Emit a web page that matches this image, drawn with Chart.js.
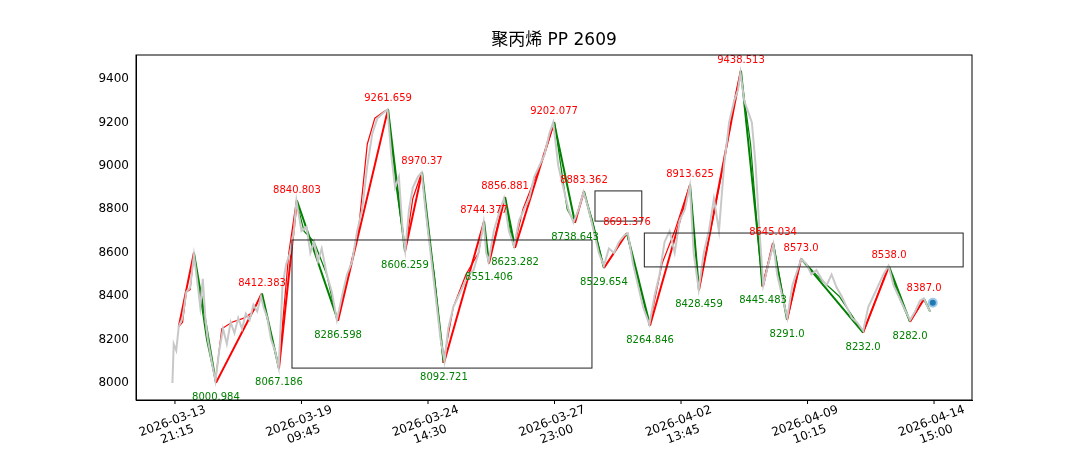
<!DOCTYPE html>
<html>
<head>
<meta charset="utf-8">
<script src="https://cdn.jsdelivr.net/npm/chart.js@4"></script>
<style>
  html, body { margin: 0; padding: 0; background: #fff; }
  #wrap { width: 1080px; height: 450px; }
</style>
</head>
<body>
<div id="wrap"><canvas id="c"></canvas></div>
<script>
// x positions are bar indexes; tick labels every 100 bars
const tickIdx = [0, 100, 200, 300, 400, 500, 600];
const tickLabels = [
  ['2026-03-13', '21:15'], ['2026-03-19', '09:45'], ['2026-03-24', '14:30'],
  ['2026-03-27', '23:00'], ['2026-04-02', '13:45'], ['2026-04-09', '10:15'],
  ['2026-04-14', '15:00']
];
const yTicks = [8000, 8200, 8400, 8600, 8800, 9000, 9200, 9400];

// raw price (grey)
const grayX = [-2,-1,1,3,6,9,12,15,18,20,22,24,26,29,32,35,38,41,44,47,50,53,56,59,62,65,68,70,73,76,79,82,85,88,91,94,96,100,104,107,110,113,116,120,124,128,132,136,140,144,148,152,156,160,164,168,171,174,177,180,182,185,188,192,195,198,201,204,207,210,213,216,220,224,228,232,236,240,244,246,248,252,256,260,264,268,272,276,280,284,288,292,296,299,303,307,311,315,319,323,327,331,335,339,343,347,351,355,358,362,366,370,375,379,383,387,391,395,399,403,407,410,414,418,422,426,430,434,438,442,445,447,450,453,456,459,462,465,469,473,476,480,484,488,492,495,499,503,507,511,515,519,523,527,531,535,539,544,548,552,556,560,564,568,572,576,581,585,589,592,595,597];
const grayY = [8000,8180,8150,8260,8300,8420,8440,8590,8450,8350,8480,8300,8200,8100,8010,8150,8250,8180,8280,8230,8300,8250,8320,8290,8360,8330,8400,8350,8300,8200,8150,8070,8450,8550,8600,8700,8840,8700,8720,8600,8650,8560,8620,8500,8420,8290,8400,8500,8560,8700,8800,9000,9150,9220,9240,9260,9050,8900,8950,8700,8610,8800,8900,8950,8970,8800,8650,8500,8350,8200,8100,8250,8350,8400,8450,8500,8520,8600,8740,8600,8560,8700,8780,8850,8700,8630,8750,8800,8850,8950,9000,9050,9150,9200,9000,8900,8800,8740,8800,8880,8800,8700,8600,8540,8620,8600,8650,8680,8690,8550,8450,8350,8270,8400,8500,8650,8700,8600,8750,8800,8910,8600,8430,8600,8700,8850,8700,9000,9200,9300,9350,9430,9300,9250,9200,9000,8700,8450,8550,8640,8500,8400,8300,8450,8520,8570,8550,8500,8520,8480,8450,8500,8440,8400,8350,8300,8280,8240,8350,8400,8450,8500,8540,8450,8400,8350,8290,8330,8380,8390,8350,8330];

// smoothed line (thin)
const smoothX = [3,6,9,12,15,20,25,32,37,45,55,62,68,75,82,90,96,102,110,120,128,135,145,152,158,165,168,175,182,188,195,200,205,212,220,230,240,244,248,256,261,265,268,275,285,292,300,305,310,316,323,330,339,347,357,365,375,385,395,407,414,425,435,442,447,455,464,473,484,495,510,525,544,555,564,572,581,592,597];
const smoothY = [8260,8280,8420,8430,8600,8400,8200,8010,8250,8280,8300,8330,8410,8250,8070,8600,8840,8700,8650,8500,8290,8450,8700,9100,9220,9250,9260,8900,8610,8850,8970,8700,8500,8093,8350,8500,8600,8744,8551,8750,8857,8700,8623,8800,8950,9050,9202,9000,8800,8739,8883,8750,8530,8600,8691,8500,8265,8550,8700,8914,8428,8750,9050,9300,9439,9100,8445,8645,8291,8573,8480,8400,8232,8400,8538,8400,8282,8387,8330];

// zigzag pivots
const pivotX = [3,15,32.4,68.8,82.2,96.4,128.9,168.4,181.8,195.3,212.6,244.3,248.2,260.9,268.8,299.6,316.2,323.3,339.1,357.3,375.5,407.1,414.2,447.4,464.8,472.7,483.8,494.9,543.9,564.4,581.0,592.1,596.8];
const pivotY = [8260,8600,8000.984,8412.383,8067.186,8840.803,8286.598,9261.659,8606.259,8970.37,8092.721,8744.377,8551.406,8856.881,8623.282,9202.077,8738.643,8883.362,8529.654,8691.376,8264.846,8913.625,8428.459,9438.513,8445.483,8645.034,8291.0,8573.0,8232.0,8538.0,8282.0,8387.0,8330];
const pivotText = [null,null,'8000.984','8412.383','8067.186','8840.803','8286.598','9261.659','8606.259','8970.37','8092.721','8744.377','8551.406','8856.881','8623.282','9202.077','8738.643','8883.362','8529.654','8691.376','8264.846','8913.625','8428.459','9438.513','8445.483','8645.034','8291.0','8573.0','8232.0','8538.0','8282.0','8387.0',null];

// boxes: [x0, x1, y0, y1]
const boxes = [[92.5, 329.6, 8069, 8659], [332, 369, 8746, 8885], [371, 623, 8535, 8691]];
const lastX = [599];
const lastY = [8370];

const pts = (xs, ys) => xs.map((x, i) => ({ x, y: ys[i] }));
const upDown = () => ctx => ctx.p1.parsed.y >= ctx.p0.parsed.y ? 'red' : 'green';

const overlay = {
  id: 'overlay',
  afterDatasetsDraw(chart) {
    const { ctx, chartArea: a, scales: { x, y } } = chart;
    ctx.save();
    ctx.strokeStyle = '#222';
    ctx.lineWidth = 1;
    for (const b of boxes) {
      const x0 = x.getPixelForValue(b[0]), x1 = x.getPixelForValue(b[1]);
      const y0 = y.getPixelForValue(b[2]), y1 = y.getPixelForValue(b[3]);
      ctx.strokeRect(x0, y1, x1 - x0, y0 - y1);
    }
    ctx.font = '10px "DejaVu Sans"';
    ctx.textAlign = 'center';
    pivotText.forEach((t, i) => {
      if (!t) return;
      const px = x.getPixelForValue(pivotX[i]), py = y.getPixelForValue(pivotY[i]);
      const high = i > 0 && pivotY[i] > pivotY[i - 1];
      ctx.fillStyle = high ? 'red' : 'green';
      ctx.fillText(t, px, high ? py - 8 : py + 17);
    });
    ctx.strokeStyle = '#000';
    ctx.strokeRect(a.left, a.top, a.width, a.height);

    // x tick marks and rotated, centred two-line labels
    ctx.fillStyle = '#000';
    ctx.font = '12px "DejaVu Sans"';
    tickIdx.forEach((v, i) => {
      const px = x.getPixelForValue(v);
      ctx.beginPath();
      ctx.moveTo(px, a.bottom);
      ctx.lineTo(px, a.bottom + 4);
      ctx.stroke();
      ctx.save();
      ctx.translate(px, a.bottom + 28);
      ctx.rotate(-20 * Math.PI / 180);
      ctx.textBaseline = 'middle';
      ctx.fillText(tickLabels[i][0], 0, -7);
      ctx.fillText(tickLabels[i][1], 0, 7);
      ctx.restore();
    });

    ctx.font = '17px "DejaVu Sans", "Noto Sans CJK SC"';
    ctx.fillText('聚丙烯 PP 2609', (a.left + a.right) / 2, 45);
    ctx.restore();
  }
};

new Chart(document.getElementById('c'), {
  type: 'line',
  data: {
    datasets: [
      { data: pts(grayX, grayY), borderColor: '#c8c8c8', borderWidth: 2, pointRadius: 0 },
      { data: pts(smoothX, smoothY), borderWidth: 1.2, pointRadius: 0, segment: { borderColor: upDown() } },
      { data: pts(pivotX, pivotY), borderWidth: 2, pointRadius: 0, segment: { borderColor: upDown() } },
      { type: 'scatter', data: pts(lastX, lastY), backgroundColor: '#1f77b4', borderColor: '#9ec8e8', borderWidth: 2, pointRadius: 4 }
    ]
  },
  options: {
    responsive: true,
    maintainAspectRatio: false,
    animation: false,
    plugins: { legend: { display: false }, tooltip: { enabled: false } },
    layout: { padding: { top: 55, right: 108, left: 0, bottom: 0 } },
    scales: {
      x: {
        type: 'linear', min: -30.8, max: 630,
        grid: { display: false },
        border: { color: '#000' },
        afterFit: s => { s.height = 50; },
        ticks: { display: false }
      },
      y: {
        min: 7922, max: 9511,
        grid: { display: false, drawTicks: true, tickLength: 4, tickColor: '#000' },
        border: { color: '#000' },
        afterBuildTicks: s => { s.ticks = yTicks.map(v => ({ value: v })); },
        afterFit: s => { s.width = 136; },
        ticks: { callback: v => String(v), color: '#000', font: { family: 'DejaVu Sans', size: 12 } }
      }
    }
  },
  plugins: [overlay]
});
</script>
</body>
</html>
